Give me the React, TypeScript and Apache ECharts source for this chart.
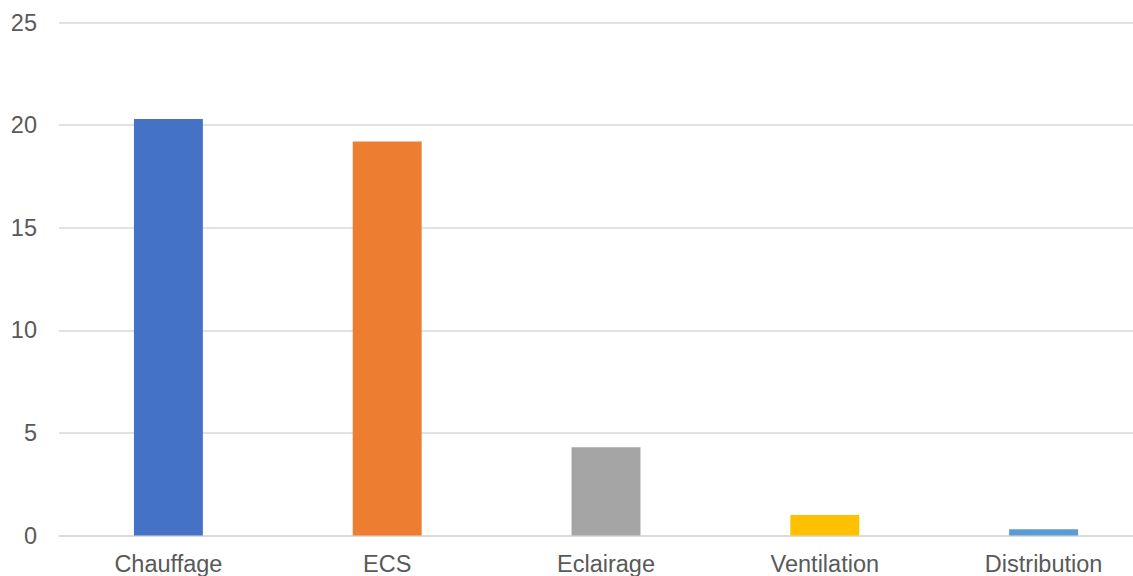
import React, { useEffect, useRef } from "react";
import * as echarts from "echarts";

const categories = ["Chauffage", "ECS", "Eclairage", "Ventilation", "Distribution"];
const values = [20.3, 19.2, 4.3, 1.0, 0.3];
const colors = ["#4472C4", "#ED7D31", "#A5A5A5", "#FFC000", "#5B9BD5"];
const yTicks = { min: 0, max: 25, interval: 5 };

export default function App() {
  const ref = useRef<HTMLDivElement>(null);
  useEffect(() => {
    if (!ref.current) return;
    const chart = echarts.init(ref.current, undefined, { renderer: "svg" });
    chart.setOption({
      animation: false,
      backgroundColor: "#ffffff",
      grid: { left: 59, right: 0, top: 22.5, bottom: 40.5, containLabel: false },
      xAxis: {
        type: "category",
        data: categories,
        axisLine: { show: true, lineStyle: { color: "#d9d9d9", width: 1.5 } },
        axisTick: { show: false },
        axisLabel: {
          color: "#595959",
          fontFamily: "Liberation Sans, Arial, sans-serif",
          fontSize: 23.5,
          margin: 16,
        },
      },
      yAxis: {
        type: "value",
        min: yTicks.min,
        max: yTicks.max,
        interval: yTicks.interval,
        axisLine: { show: false },
        axisTick: { show: false },
        splitLine: { lineStyle: { color: "#d9d9d9", width: 1.5 } },
        axisLabel: {
          color: "#595959",
          fontFamily: "Liberation Sans, Arial, sans-serif",
          fontSize: 23.5,
          margin: 22,
        },
      },
      series: [
        {
          type: "bar",
          barWidth: "31.5%",
          data: values.map((v, i) => ({ value: v, itemStyle: { color: colors[i] } })),
        },
      ],
    });
    return () => chart.dispose();
  }, []);
  return (
    <div
      style={{
        position: "fixed",
        left: 0,
        top: 0,
        width: 1133,
        height: 576,
        overflow: "hidden",
        background: "#fff",
      }}
    >
      <div ref={ref} style={{ width: 1153, height: 576 }} />
    </div>
  );
}
